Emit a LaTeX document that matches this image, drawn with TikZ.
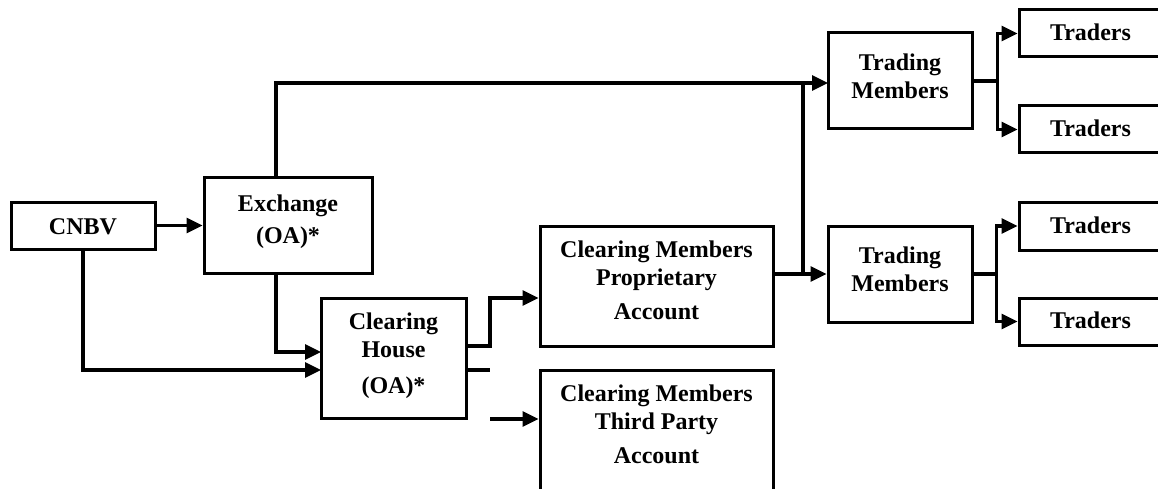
\documentclass[tikz,border=0pt]{standalone}
\usepackage{fontspec}
\setmainfont{Liberation Serif}
\usetikzlibrary{arrows.meta,calc}
\begin{document}
\begin{tikzpicture}[x=1pt,y=-1pt,
  box/.style={draw,line width=3pt,rectangle,inner sep=0pt,fill=white},
  txt/.style={align=center,inner sep=0pt,font=\fontsize{24}{28}\selectfont\bfseries},
  conn/.style={line width=3.2pt},
  arr/.style={line width=3.2pt,-{Triangle[length=16pt,width=15pt]}}]
\useasboundingbox (0,0) rectangle (1158,489);
\clip (0,0) rectangle (1158,489);
% boxes
\node[box,minimum width=144pt,minimum height=47pt] (cnbv) at (83,225.5) {};
\node[box,minimum width=168pt,minimum height=95pt] (ex) at (288,225.5) {};
\node[box,minimum width=145pt,minimum height=120pt] (ch) at (393.5,358) {};
\node[box,minimum width=233pt,minimum height=120pt] (cmp) at (656.5,286) {};
\node[box,minimum width=233pt,minimum height=160pt] (cmt) at (656.5,450) {};
\node[box,minimum width=144pt,minimum height=96pt] (tm1) at (900,81) {};
\node[box,minimum width=144pt,minimum height=96pt] (tm2) at (900,274) {};
\node[box,minimum width=143pt,minimum height=47pt] (t1) at (1090.5,33.5) {};
\node[box,minimum width=143pt,minimum height=47pt] (t2) at (1090.5,129.5) {};
\node[box,minimum width=143pt,minimum height=48pt] (t3) at (1090.5,226) {};
\node[box,minimum width=143pt,minimum height=47pt] (t4) at (1090.5,321.5) {};
% texts
\node[txt] (cnbvt) at ([yshift=-1pt]cnbv.center) {CNBV};
\node[txt] (ext) at ([yshift=4pt]ex.center) {Exchange\\[4pt](OA)*};
\node[txt] (cht) at ([yshift=2pt]ch.center) {Clearing\\House\\[8pt](OA)*};
\node[txt] (cmpt) at ([yshift=6pt]cmp.center) {Clearing Members\\Proprietary\\[6pt]Account};
\node[txt] (cmtt) at ([yshift=26pt]cmt.center) {Clearing Members\\Third Party\\[6pt]Account};
\node[txt] (tm1t) at ([yshift=5pt]tm1.center) {Trading\\Members};
\node[txt] (tm2t) at ([yshift=5pt]tm2.center) {Trading\\Members};
\node[txt] (t1t) at ([yshift=1pt]t1.center) {Traders};
\node[txt] (t2t) at ([yshift=1pt]t2.center) {Traders};
\node[txt] (t3t) at ([yshift=1pt]t3.center) {Traders};
\node[txt] (t4t) at ([yshift=1pt]t4.center) {Traders};
% coordinates
\coordinate (exup) at (276,178);
\coordinate (exdn) at (276,273);
\coordinate (cnbvdn) at (83,249);
\coordinate (chA) at (321,352);
\coordinate (chB) at (321,370);
\coordinate (choutA) at (466,346);
\coordinate (choutB) at (466,370);
\coordinate (jA) at (490,346);
\coordinate (jB) at (490,370);
\coordinate (jT) at (490,419);
\coordinate (vtop) at (803,83);
\coordinate (vbot) at (803,274);
\coordinate (tm1in) at (828,83);
% connectors
\draw[arr] (cnbv.east) -- (ex.west);
\draw[arr] (exup) |- (tm1in);
\draw[conn] (vtop) -- (vbot);
\draw[arr] (cmp.east |- tm2.west) -- (tm2.west);
\draw[arr] (exdn) |- (chA);
\draw[arr] (cnbvdn) |- (chB);
\draw[arr] (choutA) -- (jA) |- (cmp.west |- 0,298);
\draw[conn] (choutB) -- (jB);
\draw[arr] (jT) -- (cmt.west |- jT);
\draw[arr] (tm1.east) -| ($(tm1.east)+(24,0)$) |- (t1.west);
\draw[arr] ($(tm1.east)+(24,0)$) |- (t2.west);
\draw[arr] (tm2.east) -| ($(tm2.east)+(23,0)$) |- (t3.west);
\draw[arr] ($(tm2.east)+(23,0)$) |- (t4.west);
\end{tikzpicture}
\end{document}
